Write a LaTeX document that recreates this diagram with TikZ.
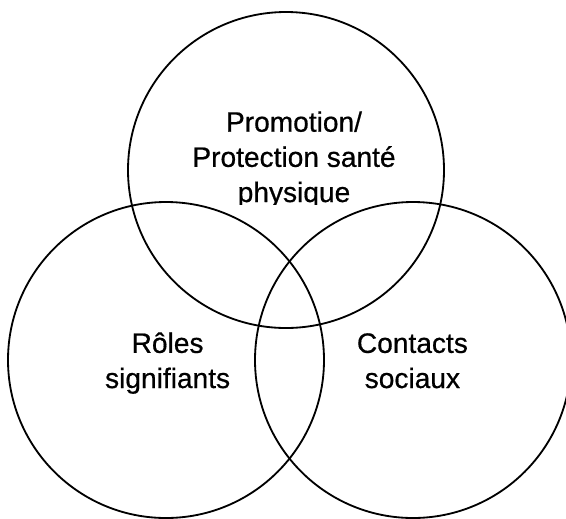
\documentclass[tikz,border=0pt]{standalone}
\usepackage{fontspec}
\setmainfont{Liberation Sans}
\newfontfamily\vennfont[FakeBold=0.6]{Liberation Sans}
\usepackage{tikz}
\usetikzlibrary{positioning}
\tikzstyle{setnode}=[black, draw=black, line width=1.3pt, shape=circle, minimum size=7.9cm, inner sep=0pt]
\tikzstyle{textnode}=[shape=rectangle, inner sep=0pt, align=center, anchor=base, font=\vennfont\fontsize{20}{25}\selectfont]

\begin{document}
\begin{tikzpicture}
\useasboundingbox (0,0) rectangle (14.15,-12.95);
\clip (0,0) rectangle (14.15,-12.95);

\node [setnode] (sante) at (7.15,-4.25) {};
\node [setnode] (roles) at (4.15,-9.0) {};
\node [setnode] (contacts) at (10.325,-9.0) {};

\begin{scope}
\clip (0,0) rectangle (14.15,-5.1);
\node [textnode] (descr0) at (7.35,-5.05) {Promotion/\\Protection santé\\physique};
\end{scope}
\node [textnode] (descr1) at (4.19,-9.7) {Rôles\\signifiants};
\node [textnode] (descr2) at (10.31,-9.7) {Contacts\\sociaux};
\end{tikzpicture}
\end{document}
